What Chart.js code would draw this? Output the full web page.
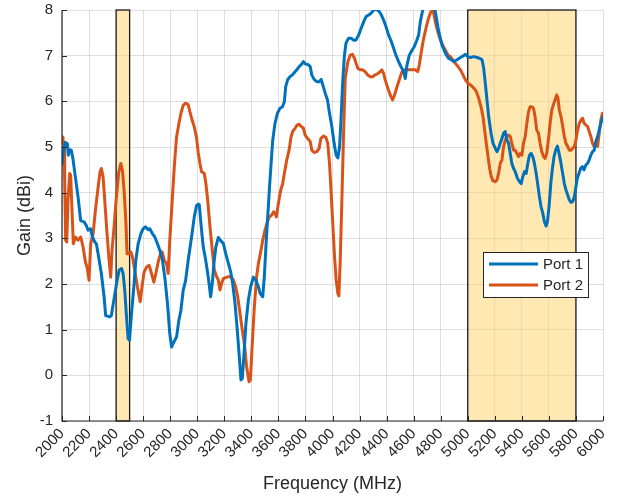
<!DOCTYPE html>
<html>
<head>
<meta charset="utf-8">
<script src="https://cdn.jsdelivr.net/npm/chart.js@4"></script>
<style>
html,body{margin:0;padding:0;background:#fff;}
#wrap{width:621px;height:497px;position:relative;}
</style>
</head>
<body>
<div id="wrap"><canvas id="c" width="621" height="497"></canvas></div>
<script>
// ---- data ----
const freq1 = [2000,2010,2025,2040,2047,2057,2069,2081,2099,2119,2138,2163,2180,2193,2212,2225,2242,2254,2267,2291,2311,2323,2353,2365,2385,2405,2422,2440,2452,2464,2477,2489,2499,2514,2531,2546,2563,2583,2600,2617,2637,2649,2669,2686,2706,2723,2741,2760,2780,2797,2810,2827,2847,2864,2879,2896,2914,2933,2958,2978,2995,3007,3015,3027,3044,3062,3081,3099,3111,3123,3138,3156,3173,3193,3210,3230,3247,3262,3279,3296,3311,3323,3333,3346,3360,3378,3395,3415,3432,3452,3464,3484,3496,3509,3521,3533,3546,3558,3575,3593,3612,3630,3644,3654,3669,3686,3704,3718,3736,3753,3768,3785,3798,3822,3835,3847,3864,3884,3901,3916,3928,3946,3963,3978,3995,4012,4027,4040,4052,4063,4075,4088,4100,4119,4138,4156,4173,4193,4212,4230,4247,4267,4286,4304,4321,4341,4358,4378,4395,4415,4435,4452,4469,4489,4506,4526,4538,4551,4568,4588,4605,4620,4637,4649,4667,4690,4725,4758,4785,4810,4835,4859,4879,4896,4921,4946,4970,4983,5000,5020,5044,5069,5088,5106,5118,5130,5142,5155,5172,5187,5204,5216,5228,5240,5253,5265,5277,5290,5302,5314,5326,5339,5351,5368,5383,5395,5407,5420,5432,5444,5456,5469,5481,5493,5506,5518,5530,5542,5555,5567,5579,5589,5601,5614,5626,5638,5650,5663,5675,5687,5702,5714,5726,5739,5751,5763,5775,5788,5800,5810,5822,5834,5847,5859,5874,5886,5898,5910,5923,5935,5947,5960,5972,5984,5996,6000];
const port1 = [4.62,4.9,5.1,5.07,4.82,4.94,4.93,4.74,4.34,3.9,3.39,3.36,3.28,3.18,3.21,3.03,2.92,2.88,2.66,2.23,1.72,1.31,1.28,1.31,1.68,2.04,2.3,2.34,2.23,1.86,1.28,0.8,0.77,1.35,1.93,2.52,2.88,3.1,3.21,3.25,3.19,3.21,3.1,3.03,2.88,2.74,2.55,2.15,1.57,0.91,0.62,0.73,0.84,1.2,1.42,1.86,2.08,2.52,3.03,3.47,3.72,3.75,3.74,3.33,2.82,2.53,2.16,1.72,2.01,2.45,2.82,3.02,2.95,2.89,2.67,2.45,2.27,2.01,1.58,0.99,0.41,-0.1,-0.07,0.48,1.14,1.65,1.94,2.15,2.09,1.94,1.8,1.72,2.16,2.89,3.47,4.06,4.64,5.15,5.52,5.74,5.85,5.88,5.99,6.32,6.48,6.54,6.58,6.63,6.69,6.76,6.8,6.87,6.82,6.8,6.76,6.58,6.48,6.43,6.43,6.48,6.36,6.18,6.03,5.74,5.45,5.08,4.82,4.76,5.0,5.6,6.4,7.0,7.28,7.38,7.38,7.34,7.34,7.45,7.6,7.74,7.85,7.89,7.93,8.0,8.02,7.98,7.91,7.78,7.64,7.45,7.31,7.16,7.01,6.87,6.76,6.65,6.5,6.8,7.01,7.12,7.2,7.31,7.45,7.74,8.0,8.4,8.5,8.0,7.53,7.23,7.05,6.94,6.91,6.87,6.91,6.96,7.0,7.03,6.98,6.96,6.98,6.96,6.94,6.91,6.72,6.39,6.03,5.66,5.3,5.08,4.97,4.9,4.97,5.08,5.19,5.3,5.34,5.15,5.08,4.86,4.64,4.53,4.46,4.31,4.24,4.2,4.35,4.46,4.42,4.64,4.82,4.86,4.79,4.64,4.42,4.17,3.91,3.69,3.55,3.36,3.27,3.36,3.69,4.2,4.53,4.79,4.93,5.02,4.86,4.68,4.42,4.2,4.06,3.95,3.84,3.79,3.8,3.91,4.13,4.31,4.42,4.53,4.57,4.5,4.61,4.64,4.72,4.82,4.9,4.93,5.12,5.23,5.37,5.52,5.63,5.65];

const freq2 = [2000,2007,2015,2020,2027,2035,2044,2057,2064,2074,2084,2099,2119,2138,2156,2173,2185,2200,2212,2230,2247,2267,2281,2291,2304,2316,2333,2348,2360,2370,2385,2402,2420,2435,2447,2459,2472,2481,2494,2509,2521,2538,2558,2578,2593,2607,2625,2644,2662,2679,2694,2711,2731,2741,2756,2773,2785,2797,2815,2830,2847,2864,2879,2896,2914,2933,2946,2963,2978,2995,3007,3020,3032,3052,3064,3077,3094,3111,3126,3143,3156,3168,3180,3193,3210,3230,3249,3267,3284,3299,3316,3333,3348,3365,3383,3393,3407,3422,3439,3452,3467,3484,3501,3518,3533,3551,3565,3575,3585,3600,3617,3632,3644,3662,3679,3694,3706,3723,3738,3753,3768,3785,3798,3815,3835,3847,3864,3884,3901,3914,3933,3951,3965,3978,3990,4002,4015,4027,4039,4047,4057,4069,4081,4094,4114,4131,4148,4163,4175,4188,4205,4222,4242,4259,4279,4296,4316,4336,4353,4365,4378,4390,4410,4427,4444,4459,4477,4489,4501,4514,4531,4551,4570,4588,4612,4630,4642,4657,4674,4691,4706,4723,4736,4748,4760,4778,4798,4815,4835,4855,4872,4889,4909,4928,4946,4965,4983,5000,5020,5049,5064,5081,5098,5113,5125,5137,5150,5162,5174,5187,5204,5216,5228,5240,5253,5265,5277,5290,5302,5314,5326,5339,5351,5363,5375,5388,5400,5412,5425,5437,5449,5461,5474,5486,5498,5510,5523,5535,5547,5560,5572,5584,5596,5609,5621,5633,5645,5658,5667,5677,5690,5702,5714,5726,5739,5751,5763,5775,5788,5800,5812,5825,5837,5849,5861,5874,5886,5898,5910,5923,5935,5947,5960,5972,5984,5996,6000];
const port2 = [5.22,5.18,5.0,4.2,2.96,2.92,3.83,4.42,4.38,3.61,2.88,3.03,2.96,3.03,2.81,2.48,2.37,2.08,2.88,3.1,3.61,4.12,4.45,4.53,4.34,3.83,3.1,2.52,2.15,2.74,3.25,3.91,4.45,4.64,4.49,4.05,3.39,2.66,2.66,2.7,2.59,2.3,1.93,1.61,1.97,2.26,2.37,2.41,2.23,2.04,2.23,2.48,2.7,2.7,2.52,2.45,2.23,2.96,3.83,4.56,5.22,5.51,5.73,5.91,5.96,5.93,5.77,5.58,5.44,5.2,4.88,4.64,4.46,4.42,4.2,3.84,3.26,2.74,2.31,2.16,2.09,1.87,2.01,2.12,2.14,2.16,2.16,2.09,1.94,1.72,1.36,0.99,0.7,0.19,-0.14,-0.1,0.7,1.5,2.16,2.45,2.67,2.96,3.18,3.36,3.47,3.51,3.58,3.55,3.47,3.77,4.06,4.2,4.42,4.72,4.93,5.23,5.34,5.41,5.48,5.5,5.45,5.41,5.26,5.19,5.12,4.93,4.88,4.9,4.97,5.19,5.24,5.21,5.08,4.64,3.99,3.33,2.6,2.09,1.8,1.74,2.5,3.8,5.2,6.5,6.87,7.01,7.03,6.94,6.83,6.72,6.69,6.69,6.65,6.58,6.54,6.54,6.58,6.61,6.65,6.69,6.61,6.47,6.28,6.14,6.03,6.14,6.32,6.43,6.54,6.65,6.69,6.69,6.69,6.69,6.69,6.65,6.8,7.09,7.38,7.6,7.78,7.93,8.0,7.93,7.74,7.53,7.34,7.23,7.12,7.01,6.98,6.91,6.83,6.76,6.69,6.58,6.47,6.4,6.36,6.28,6.21,6.07,5.88,5.66,5.37,5.08,4.79,4.53,4.35,4.26,4.24,4.28,4.42,4.64,4.72,5.01,5.15,5.23,5.26,5.23,5.08,4.93,4.93,4.86,4.79,4.86,4.82,5.08,5.23,5.52,5.77,5.88,5.88,5.85,5.66,5.37,5.3,5.08,4.9,4.79,4.75,4.86,5.15,5.52,5.81,5.92,6.03,6.14,6.07,5.81,5.66,5.45,5.23,5.08,5.01,4.93,4.93,4.97,5.01,5.15,5.37,5.52,5.59,5.63,5.52,5.48,5.45,5.34,5.23,5.08,5.01,5.07,5.01,5.3,5.59,5.74];

const seriesNames = ['Port 1','Port 2'];
const bandStarts = [2400, 5000];
const bandEnds = [2500, 5800];
const xTickMin = 2000, xTickMax = 6000, xTickStep = 200;
const yTickMin = -1, yTickMax = 8, yTickStep = 1;

// ---- styles ----
const COL1 = '#0072BD', COL2 = '#D95319';
const TXT = '#262626';
const FONT = "'Liberation Sans', Arial, Helvetica, sans-serif";

const bandPlugin = {
  id: 'bands',
  beforeDatasetsDraw(chart) {
    const {ctx, chartArea, scales:{x}} = chart;
    ctx.save();
    for (let i = 0; i < bandStarts.length; i++) {
      const x0 = x.getPixelForValue(bandStarts[i]);
      const x1 = x.getPixelForValue(bandEnds[i]);
      ctx.fillStyle = 'rgba(255,210,100,0.5)';
      ctx.fillRect(x0, chartArea.top, x1 - x0, chartArea.bottom - chartArea.top);
      ctx.strokeStyle = '#1a1a1a';
      ctx.lineWidth = 1.3;
      ctx.strokeRect(x0, chartArea.top, x1 - x0, chartArea.bottom - chartArea.top);
    }
    ctx.restore();
  }
};

const decoPlugin = {
  id: 'deco',
  afterDraw(chart) {
    const {ctx, chartArea, scales:{x, y}} = chart;
    ctx.save();
    ctx.strokeStyle = TXT;
    ctx.lineWidth = 1;
    for (let v = xTickMin; v <= xTickMax; v += xTickStep) {
      const px = Math.round(x.getPixelForValue(v)) + 0.5;
      ctx.beginPath(); ctx.moveTo(px, chartArea.bottom); ctx.lineTo(px, chartArea.bottom - 5); ctx.stroke();
    }
    for (let v = yTickMin; v <= yTickMax; v += yTickStep) {
      const py = Math.round(y.getPixelForValue(v)) + 0.5;
      ctx.beginPath(); ctx.moveTo(chartArea.left, py); ctx.lineTo(chartArea.left + 5, py); ctx.stroke();
    }
    ctx.lineWidth = 1.2;
    ctx.beginPath();
    ctx.moveTo(chartArea.left, chartArea.top);
    ctx.lineTo(chartArea.left, chartArea.bottom);
    ctx.lineTo(chartArea.right, chartArea.bottom);
    ctx.stroke();
    // legend
    const lx = 483, ly = 252, lw = 105, lh = 45;
    ctx.fillStyle = '#fff';
    ctx.fillRect(lx, ly, lw, lh);
    ctx.strokeStyle = TXT;
    ctx.lineWidth = 1;
    ctx.strokeRect(lx + 0.5, ly + 0.5, lw, lh);
    const rows = [264, 285];
    chart.data.datasets.forEach((ds, i) => {
      ctx.strokeStyle = ds.borderColor;
      ctx.lineWidth = 3;
      ctx.beginPath(); ctx.moveTo(489, rows[i]); ctx.lineTo(538, rows[i]); ctx.stroke();
      ctx.fillStyle = TXT;
      ctx.font = "15px " + FONT;
      ctx.textBaseline = 'middle';
      ctx.textAlign = 'left';
      ctx.fillText(ds.label, 543, rows[i] + 1);
    });
    ctx.restore();
  }
};

const ctx = document.getElementById('c').getContext('2d');
new Chart(ctx, {
  type: 'line',
  data: {
    datasets: [
      { label: seriesNames[0], data: freq1.map((f, i) => ({x: f, y: port1[i]})), borderColor: COL1, backgroundColor: COL1, borderWidth: 3, pointRadius: 0, tension: 0, borderJoinStyle: 'round', borderCapStyle: 'round' },
      { label: seriesNames[1], data: freq2.map((f, i) => ({x: f, y: port2[i]})), borderColor: COL2, backgroundColor: COL2, borderWidth: 3, pointRadius: 0, tension: 0, borderJoinStyle: 'round', borderCapStyle: 'round' }
    ]
  },
  options: {
    responsive: false,
    animation: false,
    devicePixelRatio: 1,
    layout: { padding: { left: 0, right: 18, top: 10, bottom: 0 } },
    plugins: { legend: { display: false }, tooltip: { enabled: false } },
    scales: {
      x: {
        type: 'linear', min: xTickMin, max: xTickMax,
        afterFit(s) { s.height = 76; },
        ticks: { stepSize: xTickStep, autoSkip: false, maxRotation: 45, minRotation: 45, color: TXT, font: { family: FONT, size: 15 }, padding: 4, callback: v => String(v) },
        grid: { color: 'rgba(38,38,38,0.15)', lineWidth: 1, drawTicks: false },
        border: { display: false },
        title: { display: true, text: 'Frequency (MHz)', color: TXT, font: { family: FONT, size: 18 }, padding: { top: 0, bottom: 2 } }
      },
      y: {
        min: yTickMin, max: yTickMax,
        afterFit(s) { s.width = 62; s.paddingTop = 0; s.paddingBottom = 0; },
        ticks: { stepSize: yTickStep, color: TXT, font: { family: FONT, size: 15 }, padding: 9, callback: v => String(v) },
        grid: { color: 'rgba(38,38,38,0.15)', lineWidth: 1, drawTicks: false },
        border: { display: false },
        title: { display: true, text: 'Gain (dBi)', color: TXT, font: { family: FONT, size: 18 }, padding: { top: 14, bottom: 0 } }
      }
    }
  },
  plugins: [bandPlugin, decoPlugin]
});
</script>
</body>
</html>
